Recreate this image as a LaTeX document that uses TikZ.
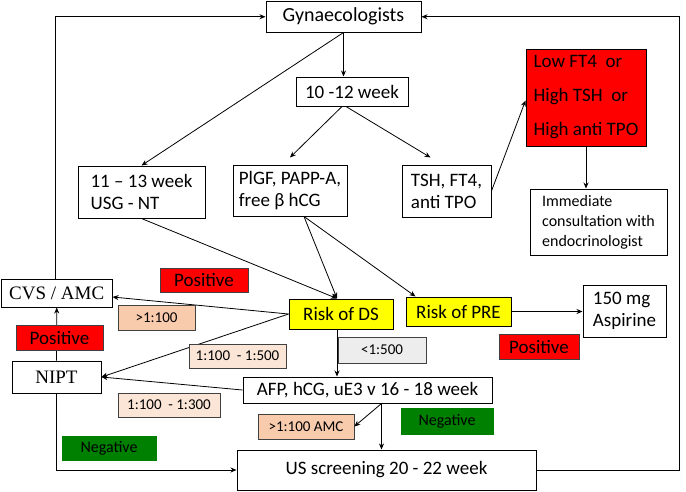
\documentclass[tikz,border=0pt]{standalone}
\usepackage{fontspec}
\setmainfont{Carlito}
\newfontfamily\timesfont{Liberation Serif}
\usepackage{tikz}
\usetikzlibrary{
  arrows.meta,
  calc
}
\definecolor{alertred}{RGB}{255,0,0}
\definecolor{riskyellow}{RGB}{255,255,0}
\definecolor{okgreen}{RGB}{0,128,0}
\definecolor{peachdark}{RGB}{248,203,173}
\definecolor{peachlight}{RGB}{251,229,214}
\definecolor{graytag}{RGB}{237,237,237}
\newcommand{\fcbox}[7]{%
  \pgfmathsetmacro{\boxw}{#4-#2}%
  \pgfmathsetmacro{\boxh}{#5-#3}%
  \node[#6,minimum width=\boxw pt,minimum height=\boxh pt] (#1) at ({(#2+#4)/2},{(#3+#5)/2}) {#7};%
}

\begin{document}
\begin{tikzpicture}[x=1pt,y=-1pt,
  plainbox/.style={draw=black,line width=1pt,fill=white,inner sep=0pt,align=left,
    font=\fontsize{19}{22}\selectfont},
  redbox/.style={plainbox,fill=alertred},
  riskbox/.style={plainbox,fill=riskyellow},
  tag/.style={draw=black!75,line width=0.6pt,inner sep=0pt,font=\fontsize{15}{18}\selectfont},
  postag/.style={tag,fill=alertred,font=\fontsize{19}{22}\selectfont},
  negtag/.style={tag,draw=okgreen,fill=okgreen,font=\fontsize{16}{19}\selectfont},
  hightag/.style={tag,fill=peachdark},
  midtag/.style={tag,fill=peachlight},
  lowtag/.style={tag,fill=graytag},
  arr/.style={-{Stealth[length=6pt,width=5pt]},line width=0.8pt}]
  \useasboundingbox (0,0) rectangle (686,491);

  \fcbox{gyn}{266}{1.5}{421}{32}{plainbox,font=\fontsize{20}{24}\selectfont}{Gynaecologists}
  \fcbox{week1012}{296}{77}{408}{106}{plainbox}{10 -12 week}
  \fcbox{lowft4}{526}{49}{646}{146}{redbox,font=\fontsize{19}{34}\selectfont}{Low FT4 \ or\\High TSH \ or\\High anti TPO}
  \fcbox{usgnt}{78}{166}{205}{218}{plainbox}{11 -- 13 week\\USG - NT}
  \fcbox{plgf}{233}{165}{347}{216}{plainbox}{PlGF, PAPP-A,\\free β hCG}
  \fcbox{tsh}{402}{165}{491}{217}{plainbox}{TSH, FT4,\\anti TPO}
  \fcbox{consult}{530}{189}{667}{255}{plainbox,font=\fontsize{16}{20}\selectfont}{Immediate\\consultation with\\endocrinologist}
  \fcbox{cvs}{1.5}{279}{112}{307}{plainbox}{\timesfont CVS / AMC}
  \fcbox{nipt}{12}{361}{101}{393}{plainbox}{\timesfont NIPT}
  \fcbox{riskds}{289}{299}{393}{329}{riskbox}{Risk of DS}
  \fcbox{riskpre}{406}{297}{511}{326}{riskbox}{Risk of PRE}
  \fcbox{aspirin}{583}{285}{666}{337}{plainbox}{150 mg\\Aspirine}
  \fcbox{afp}{243}{377}{492}{403}{plainbox}{AFP, hCG, uE3 v 16 - 18 week}
  \fcbox{usscr}{237}{450}{536}{490}{plainbox}{US screening 20 - 22 week}
  \fcbox{gtamc}{258}{414}{354}{439}{hightag}{>1:100 AMC}

  \coordinate (lloop) at (55,0);
  \coordinate (rloop) at (679,0);

  \draw[arr] (gyn.south) -- (gyn.south |- week1012.north);
  \draw[arr] (gyn.south) -- (usgnt.north);
  \draw[arr] ([xshift=-10pt]week1012.south) -- ([yshift=7pt]plgf.north);
  \draw[arr] ([xshift=-6pt]week1012.south) -- ([xshift=-16pt,yshift=7pt]tsh.north);
  \draw[arr] (tsh.east) -- ([yshift=-3pt]lowft4.west);
  \draw[arr] (lowft4.south) -- (lowft4.south |- consult.north);
  \draw[arr] (usgnt.south) -- ([xshift=-4pt]riskds.north);
  \draw[arr] ([xshift=14pt]plgf.south) -- ([xshift=-4pt]riskds.north);
  \draw[arr] ([xshift=14pt]plgf.south) -- ([xshift=-43pt]riskpre.north);
  \draw[arr] (riskpre.east) -- (riskpre.east -| aspirin.west);
  \draw[arr] (riskds.west) -- ([yshift=-4pt]cvs.east);
  \draw[arr] (riskds.west) -- (nipt.east);
  \draw[arr] (afp.west) -- (nipt.east);
  \draw[arr] ([xshift=-4pt]riskds.south) -- ([xshift=-4pt]riskds.south |- afp.north);
  \draw[arr] ([xshift=14pt]afp.south) -- (gtamc.east);
  \draw[arr] ([xshift=14pt]afp.south) -- ([xshift=14pt]afp.south |- usscr.north);
  \draw[arr] (nipt.north) -- (cvs.south);
  \draw[arr] (nipt.south) |- (usscr.west);
  \draw[arr] (usscr.east) -| (rloop |- gyn.east) -- (gyn.east);
  \draw[arr] (cvs.north -| lloop) |- (gyn.west);

  \fcbox{posds}{160}{268}{248}{292}{postag}{Positive}
  \fcbox{gtds}{118}{305}{195}{330}{hightag}{>1:100}
  \fcbox{posnipt}{16}{325}{103}{350}{postag}{Positive}
  \fcbox{rng500}{189}{344}{286}{368}{midtag}{1:100 \ - 1:500}
  \fcbox{pospre}{499}{334}{579}{359}{postag}{Positive}
  \fcbox{lt500}{338}{337}{426}{363}{lowtag}{<1:500}
  \fcbox{rng300}{118}{393}{220}{417}{midtag}{1:100 \ - 1:300}
  \fcbox{negafp}{401}{408}{493}{434}{negtag}{Negative}
  \fcbox{negnipt}{62}{436}{156}{460}{negtag}{Negative}
\end{tikzpicture}
\end{document}
